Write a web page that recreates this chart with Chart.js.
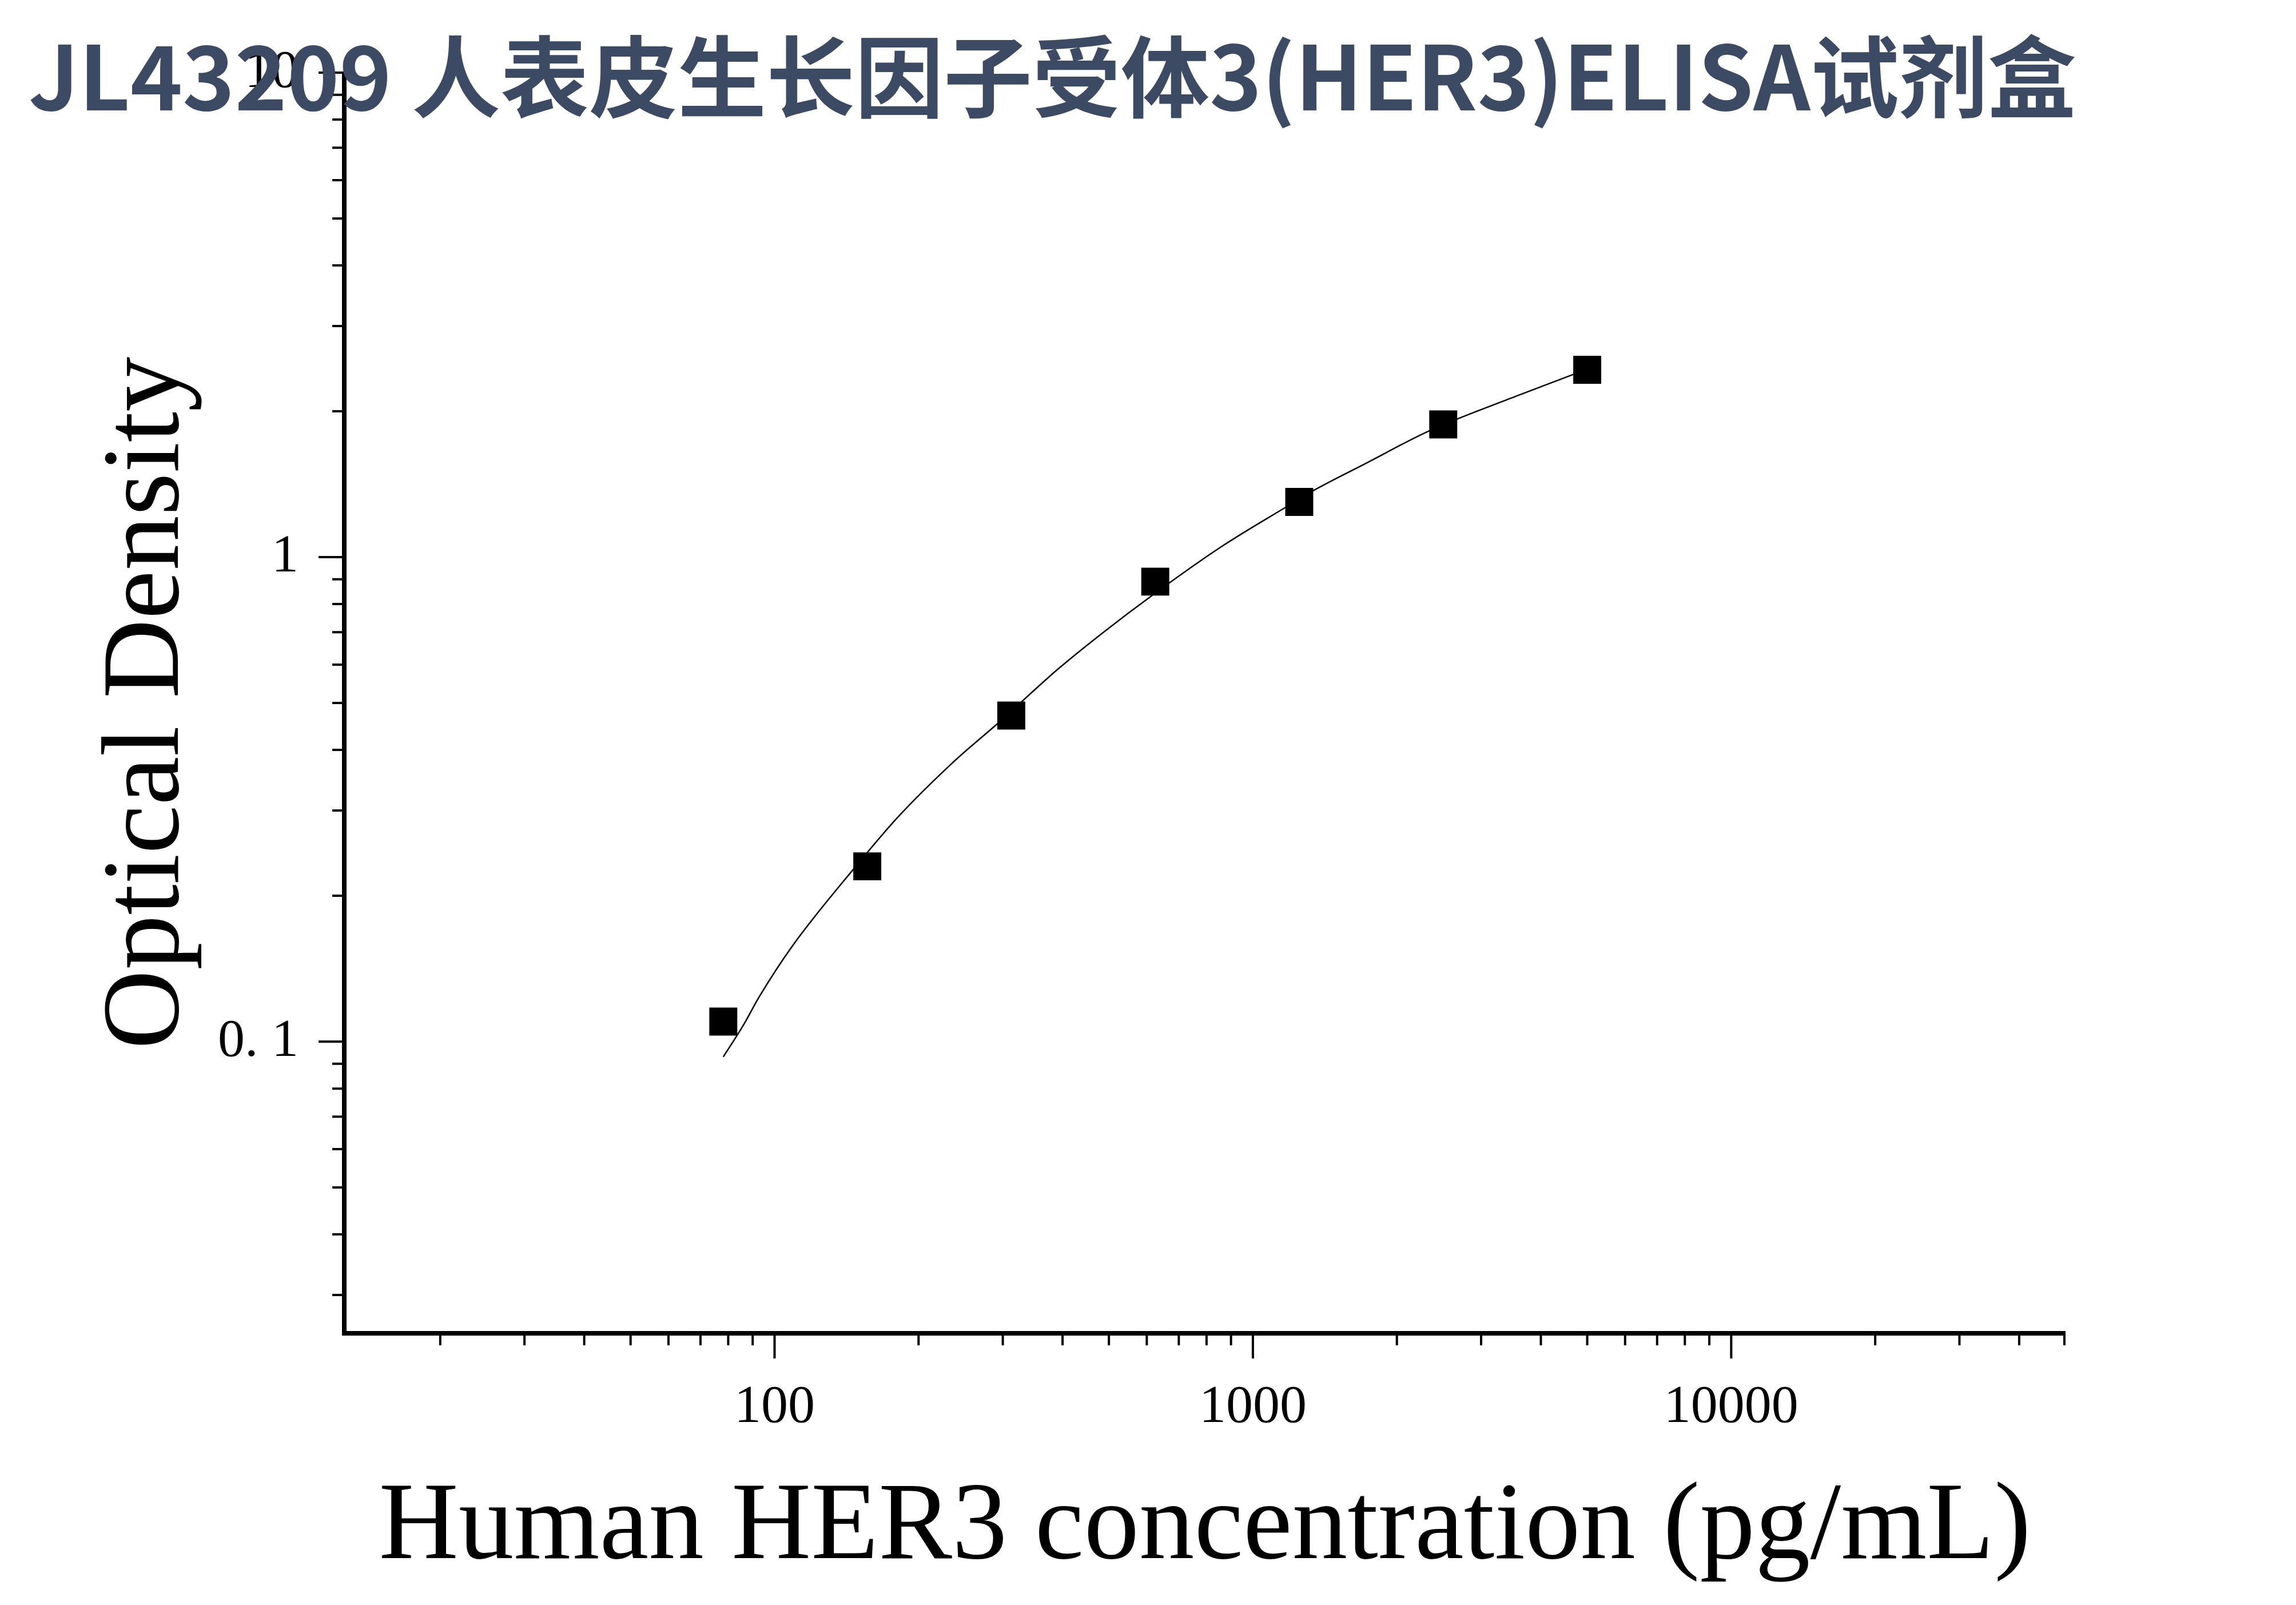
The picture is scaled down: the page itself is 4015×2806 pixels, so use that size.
<!DOCTYPE html>
<html>
<head>
<meta charset="utf-8">
<script src="https://cdn.jsdelivr.net/npm/chart.js@4.4.1/dist/chart.umd.min.js"></script>
<style>
  html, body { margin: 0; padding: 0; background: #fff; }
  canvas { display: block; }
</style>
</head>
<body>
<canvas id="chart" width="4015" height="2806"></canvas>
<script>
// standards
const concentrations = [78.125, 156.25, 312.5, 625, 1250, 2500, 5000];
const odValues = [0.110, 0.230, 0.471, 0.890, 1.300, 1.879, 2.436];

// fitted curve
const curveX = [78.125, 86.0, 93.0, 109.2, 147.1, 180.0, 237.1, 292.6, 392.5, 489.1, 615.1, 855.6, 1179.6, 1341.6, 1702, 2346, 3544, 4667, 5000];
const curveY = [0.093, 0.108, 0.124, 0.158, 0.2286, 0.2889, 0.3786, 0.4534, 0.5889, 0.702, 0.833, 1.048, 1.273, 1.374, 1.552, 1.825, 2.147, 2.381, 2.444];

// axis ticks
const xMajorTicks = [100, 1000, 10000];
const xTickLabels = ["100", "1000", "10000"];
const xMinorTicks = [20, 30, 40, 50, 60, 70, 80, 90, 200, 300, 400, 500, 600, 700, 800, 900,
    2000, 3000, 4000, 5000, 6000, 7000, 8000, 9000, 20000, 30000, 40000, 50000];
const yMajorTicks = [0.1, 1, 10];
const yTickLabels = ["0. 1", "1", "10"];
const yMinorTicks = [0.03, 0.04, 0.05, 0.06, 0.07, 0.08, 0.09, 0.2, 0.3, 0.4, 0.5, 0.6, 0.7, 0.8, 0.9,
    2, 3, 4, 5, 6, 7, 8, 9];

const chartTitle = "JL43209 人表皮生长因子受体3(HER3)ELISA试剂盒";

const serif = "'Liberation Serif', 'Times New Roman', serif";

const axesAndTitle = {
    id: "axesAndTitle",
    afterDraw(chart) {
        const ctx = chart.ctx;
        const x = chart.scales.x;
        const y = chart.scales.y;
        const area = chart.chartArea;
        ctx.save();
        ctx.strokeStyle = "#000";
        ctx.lineCap = "butt";

        // axis lines
        ctx.lineWidth = 8;
        ctx.beginPath();
        ctx.moveTo(area.left, area.top);
        ctx.lineTo(area.left, area.bottom + 4);
        ctx.moveTo(area.left - 4, area.bottom);
        ctx.lineTo(area.right, area.bottom);
        ctx.stroke();

        // ticks
        ctx.lineWidth = 4;
        ctx.beginPath();
        xMajorTicks.forEach(function (v) {
            const px = x.getPixelForValue(v);
            ctx.moveTo(px, area.bottom);
            ctx.lineTo(px, area.bottom + 44);
        });
        xMinorTicks.forEach(function (v) {
            const px = Math.min(x.getPixelForValue(v), area.right - 2);
            ctx.moveTo(px, area.bottom);
            ctx.lineTo(px, area.bottom + 21);
        });
        yMajorTicks.forEach(function (v) {
            const py = y.getPixelForValue(v);
            ctx.moveTo(area.left, py);
            ctx.lineTo(area.left - 45, py);
        });
        yMinorTicks.forEach(function (v) {
            const py = y.getPixelForValue(v);
            ctx.moveTo(area.left, py);
            ctx.lineTo(area.left - 21, py);
        });
        ctx.stroke();

        // title on top of everything
        ctx.fillStyle = "#3d4a63";
        ctx.font = "bold 155px 'Noto Sans CJK SC'";
        ctx.textAlign = "left";
        ctx.textBaseline = "alphabetic";
        ctx.fillText(chartTitle, 50, 193);
        ctx.restore();
    },
};

new Chart(document.getElementById("chart"), {
    type: "scatter",
    data: {
        datasets: [
            {
                label: "curve",
                data: curveX.map(function (v, i) { return { x: v, y: curveY[i] }; }),
                showLine: true,
                borderColor: "#000",
                borderWidth: 2.5,
                pointRadius: 0,
                cubicInterpolationMode: "monotone",
            },
            {
                label: "standards",
                data: concentrations.map(function (v, i) { return { x: v, y: odValues[i] }; }),
                pointStyle: "rect",
                pointRadius: 34.6,
                pointBorderWidth: 0,
                backgroundColor: "#000",
                borderColor: "#000",
            },
        ],
    },
    options: {
        responsive: false,
        animation: false,
        devicePixelRatio: 1,
        layout: {
            padding: { left: 0, top: 116, right: 403, bottom: 0 },
        },
        scales: {
            x: {
                type: "logarithmic",
                position: "bottom",
                min: 12.6,
                max: 50000,
                grid: { display: false, drawTicks: false },
                border: { display: false },
                afterBuildTicks: function (scale) {
                    scale.ticks = xMajorTicks.map(function (v) { return { value: v }; });
                },
                afterFit: function (scale) {
                    scale.height = 475;
                },
                ticks: {
                    autoSkip: false,
                    maxRotation: 0,
                    padding: 83,
                    color: "#000",
                    font: { family: serif, size: 94, lineHeight: 1 },
                    callback: function (value, index) {
                        return xTickLabels[index];
                    },
                },
                title: {
                    display: true,
                    text: "Human HER3 concentration (pg/mL)",
                    color: "#000",
                    font: { family: serif, size: 193, lineHeight: 1 },
                    padding: { top: 0, bottom: 36 },
                },
            },
            y: {
                type: "logarithmic",
                position: "left",
                min: 0.025,
                max: 10,
                grid: { display: false, drawTicks: false },
                border: { display: false },
                afterBuildTicks: function (scale) {
                    scale.ticks = yMajorTicks.map(function (v) { return { value: v }; });
                },
                afterFit: function (scale) {
                    scale.width = 602;
                },
                ticks: {
                    autoSkip: false,
                    padding: 80,
                    color: "#000",
                    font: { family: serif, size: 94, lineHeight: 1 },
                    callback: function (value, index) {
                        return yTickLabels[index];
                    },
                },
                title: {
                    display: true,
                    text: "Optical Density",
                    color: "#000",
                    font: { family: serif, size: 192, lineHeight: 1 },
                    padding: { top: 165, bottom: 0 },
                },
            },
        },
        plugins: {
            legend: { display: false },
            tooltip: { enabled: false },
        },
    },
    plugins: [axesAndTitle],
});
</script>
</body>
</html>
